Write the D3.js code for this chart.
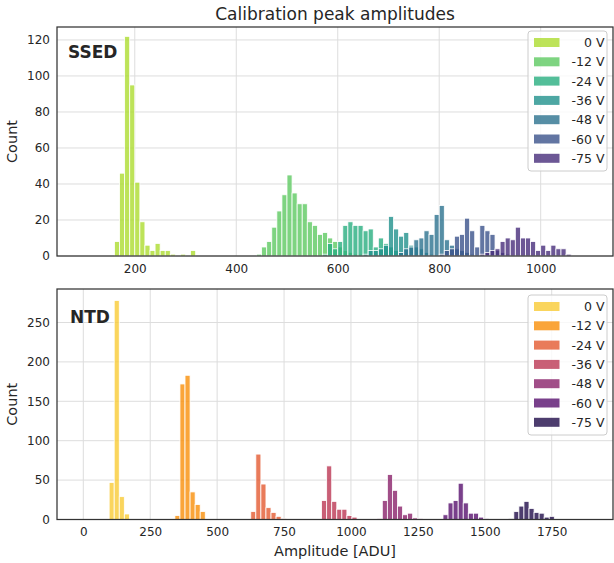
<!DOCTYPE html>
<html>
<head>
<meta charset="utf-8">
<script src="https://cdn.jsdelivr.net/npm/d3@7"></script>
<style>
  body { margin: 0; background: #fff; }
  svg { font-family: "DejaVu Sans", sans-serif; }
</style>
</head>
<body>
<svg id="chart" width="614" height="563"></svg>
<script>
// ---- data -------------------------------------------------------------
const voltageLabels = ["0 V", "-12 V", "-24 V", "-36 V", "-48 V", "-60 V", "-75 V"];

// SSED: 100 shared bins of 10 ADU starting at 100 ADU
const ssedBinStart = 100;
const ssedBinWidth = 10;
const ssedFirstBin = [6, 34, 47, 55, 62, 70, 78];
const ssedCounts0V  = [8, 46, 122, 95, 41, 19, 6, 3, 7, 3, 3, 1, 0, 1, 0, 3];
const ssedCounts12V = [1, 5, 8, 16, 25, 34, 45, 35, 29, 29, 19, 17, 12, 13, 10, 8, 5, 3, 2, 1, 1];
const ssedCounts24V = [1, 7, 4, 8, 17, 19, 17, 17, 14, 15, 5, 10, 7, 5, 3, 2, 1];
const ssedCounts36V = [1, 3, 3, 4, 6, 22, 15, 11, 13, 6, 5, 4, 2, 1];
const ssedCounts48V = [2, 4, 5, 9, 10, 14, 12, 23, 28, 9, 6, 4, 3, 2, 1];
const ssedCounts60V = [1, 3, 4, 11, 12, 21, 14, 5, 17, 14, 12, 3, 2, 1];
const ssedCounts75V = [1, 2, 3, 4, 8, 10, 9, 16, 10, 10, 8, 3, 6, 3, 6, 4, 4, 1];

// NTD: 100 shared bins of 18.9 ADU starting at 2 ADU
const ntdBinStart = 2;
const ntdBinWidth = 18.9;
const ntdFirstBin = [5, 18, 33, 47, 58, 71, 84];
const ntdCounts0V  = [47, 278, 29, 7];
const ntdCounts12V = [5, 172, 183, 35, 19, 10];
const ntdCounts24V = [10, 83, 45, 15, 9, 4, 1];
const ntdCounts36V = [24, 68, 23, 13, 13, 5, 3];
const ntdCounts48V = [1, 24, 57, 37, 17, 6, 8, 2, 1];
const ntdCounts60V = [6, 21, 24, 46, 21, 8, 8, 3, 1];
const ntdCounts75V = [1, 10, 17, 23, 14, 9, 8, 3, 4];

// tick values
const ssedXTicks = [200, 400, 600, 800, 1000];
const ssedYTicks = [0, 20, 40, 60, 80, 100, 120];
const ntdXTicks = [0, 250, 500, 750, 1000, 1250, 1500, 1750];
const ntdYTicks = [0, 50, 100, 150, 200, 250];

// colour map positions (reversed maps, sampled away from the ends)
const paletteStops = [0.875, 0.75, 0.625, 0.5, 0.375, 0.25, 0.125];

// ---- drawing ----------------------------------------------------------
const svg = d3.select("#chart");
const plotLeft = 57, plotRight = 613;
const barAlpha = 0.8;

svg.append("text")
  .attr("x", (plotLeft + plotRight) / 2).attr("y", 20)
  .attr("text-anchor", "middle")
  .attr("font-size", 17).attr("fill", "#262626")
  .text("Calibration peak amplitudes");

function buildBars(firstBins, countLists, binStart, binWidth) {
  return countLists.map((counts, s) => counts.map((c, i) => {
    const k = firstBins[s] + i;
    return { x0: binStart + k * binWidth, x1: binStart + (k + 1) * binWidth, count: c };
  }));
}

function drawPanel(cfg) {
  const g = svg.append("g");
  const x = d3.scaleLinear().domain(cfg.xDomain).range([plotLeft, plotRight]);
  const y = d3.scaleLinear().domain(cfg.yDomain).range([cfg.bottom, cfg.top]);

  // grid
  const grid = g.append("g").attr("stroke", "#dddddd").attr("stroke-width", 1);
  grid.selectAll("line.gx").data(cfg.xTicks).join("line")
    .attr("x1", d => x(d)).attr("x2", d => x(d))
    .attr("y1", cfg.top).attr("y2", cfg.bottom);
  grid.selectAll("line.gy").data(cfg.yTicks).join("line")
    .attr("x1", plotLeft).attr("x2", plotRight)
    .attr("y1", d => y(d)).attr("y2", d => y(d));

  // histogram bars, one layer per bias voltage
  cfg.series.forEach((bars, s) => {
    g.append("g")
      .selectAll("rect").data(bars.filter(b => b.count > 0)).join("rect")
      .attr("x", d => x(d.x0))
      .attr("width", d => x(d.x1) - x(d.x0))
      .attr("y", d => y(d.count))
      .attr("height", d => y(0) - y(d.count))
      .attr("fill", cfg.colors[s])
      .attr("fill-opacity", barAlpha)
      .attr("stroke", "#ffffff")
      .attr("stroke-width", 0.8);
  });

  // axes (labels only, no tick marks)
  const fmt = d3.format("d");
  const xAxis = d3.axisBottom(x).tickValues(cfg.xTicks).tickFormat(fmt).tickSize(0).tickPadding(8);
  const yAxis = d3.axisLeft(y).tickValues(cfg.yTicks).tickFormat(fmt).tickSize(0).tickPadding(7);
  const gx = g.append("g").attr("transform", `translate(0,${cfg.bottom})`).call(xAxis);
  const gy = g.append("g").attr("transform", `translate(${plotLeft},0)`).call(yAxis);
  [gx, gy].forEach(a => {
    a.select(".domain").remove();
    a.selectAll("text").attr("font-size", 12).attr("fill", "#262626")
      .attr("font-family", "DejaVu Sans, sans-serif");
  });

  // frame
  g.append("rect")
    .attr("x", plotLeft).attr("y", cfg.top)
    .attr("width", plotRight - plotLeft).attr("height", cfg.bottom - cfg.top)
    .attr("fill", "none").attr("stroke", "#333333").attr("stroke-width", 1.25);

  // y label
  g.append("text")
    .attr("transform", `translate(17,${(cfg.top + cfg.bottom) / 2}) rotate(-90)`)
    .attr("text-anchor", "middle").attr("font-size", 14.5).attr("fill", "#262626")
    .text("Count");

  // detector tag
  g.append("text")
    .attr("x", cfg.tagX).attr("y", cfg.tagY)
    .attr("font-size", 17).attr("font-weight", "bold").attr("fill", "#262626")
    .text(cfg.tag);

  // legend
  const lg = g.append("g");
  const rowH = 19.3;
  lg.append("rect")
    .attr("x", 528).attr("y", cfg.legendTop)
    .attr("width", 79).attr("height", 140).attr("rx", 3)
    .attr("fill", "#ffffff").attr("fill-opacity", 0.8)
    .attr("stroke", "#cccccc").attr("stroke-width", 1);
  voltageLabels.forEach((lab, i) => {
    const cy = cfg.legendTop + 11.5 + i * rowH;
    lg.append("rect")
      .attr("x", 534).attr("y", cy - 4.5).attr("width", 25.5).attr("height", 9)
      .attr("fill", cfg.colors[i]).attr("fill-opacity", barAlpha);
    lg.append("text")
      .attr("x", 604.5).attr("y", cy + 4.5)
      .attr("text-anchor", "end").attr("font-size", 12.5).attr("fill", "#262626")
      .text(lab);
  });

  if (cfg.xLabel) {
    g.append("text")
      .attr("x", (plotLeft + plotRight) / 2).attr("y", cfg.bottom + 36)
      .attr("text-anchor", "middle").attr("font-size", 14.5).attr("fill", "#262626")
      .text(cfg.xLabel);
  }
}

drawPanel({
  top: 27, bottom: 256,
  xDomain: [46.7, 1142.5], yDomain: [0, 127.2],
  xTicks: ssedXTicks, yTicks: ssedYTicks,
  series: buildBars(ssedFirstBin,
    [ssedCounts0V, ssedCounts12V, ssedCounts24V, ssedCounts36V, ssedCounts48V, ssedCounts60V, ssedCounts75V],
    ssedBinStart, ssedBinWidth),
  colors: paletteStops.map(t => d3.interpolateViridis(t)),
  tag: "SSED", tagX: 68, tagY: 58,
  legendTop: 31
});

drawPanel({
  top: 289, bottom: 519.5,
  xDomain: [-98.3, 1979], yDomain: [0, 292.5],
  xTicks: ntdXTicks, yTicks: ntdYTicks,
  series: buildBars(ntdFirstBin,
    [ntdCounts0V, ntdCounts12V, ntdCounts24V, ntdCounts36V, ntdCounts48V, ntdCounts60V, ntdCounts75V],
    ntdBinStart, ntdBinWidth),
  colors: paletteStops.map(t => d3.interpolateInferno(t)),
  tag: "NTD", tagX: 70, tagY: 322.5,
  legendTop: 295,
  xLabel: "Amplitude [ADU]"
});
</script>
</body>
</html>
